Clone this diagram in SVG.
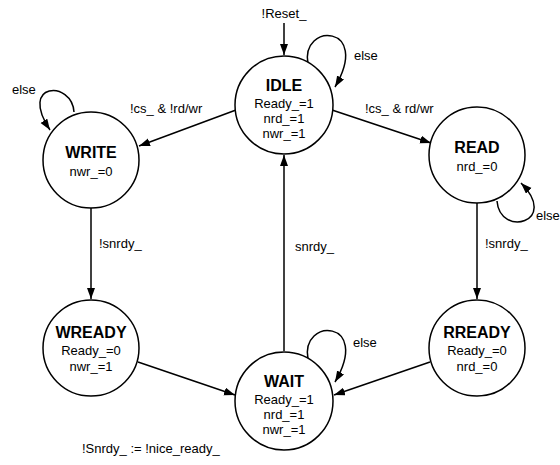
<svg xmlns="http://www.w3.org/2000/svg" width="560" height="465" viewBox="0 0 560 465">
<style>
.st{fill:#fff;stroke:#000;stroke-width:1.5}
.nm{font-family:"Liberation Sans",Arial,sans-serif;font-weight:bold;font-size:16px;text-anchor:middle;fill:#000}
.tx{font-family:"Liberation Sans",Arial,sans-serif;font-size:13px;text-anchor:middle;fill:#000}
.lb{font-family:"Liberation Sans",Arial,sans-serif;font-size:13px;fill:#000}
.cn{fill:none;stroke:#000;stroke-width:1.5;marker-end:url(#ah)}
</style>
<defs>
<marker id="ah" markerUnits="userSpaceOnUse" markerWidth="12" markerHeight="10" refX="11" refY="4" orient="auto">
<path d="M0,0 L11,4 L0,8 z" fill="#000"/>
</marker>
</defs>
<rect width="560" height="465" fill="#fff"/>
<g id="connectors">
<line class="cn" x1="284" y1="23" x2="284" y2="55"/>
<path class="cn" d="M308,64 C300,22 372,24 335,87"/>
<line class="cn" x1="236" y1="110" x2="139" y2="146"/>
<line class="cn" x1="332" y1="110" x2="431" y2="143"/>
<path class="cn" d="M74,112 C72,80 18,82 50,130"/>
<path class="cn" d="M497,201 C500,238 560,222 521,183"/>
<line class="cn" x1="91" y1="208" x2="91" y2="299"/>
<line class="cn" x1="477" y1="203" x2="477" y2="299"/>
<line class="cn" x1="284" y1="351" x2="284" y2="155"/>
<line class="cn" x1="138" y1="362" x2="235" y2="395"/>
<line class="cn" x1="430" y1="362" x2="334" y2="395"/>
<path class="cn" d="M308,359 C300,317 372,319 335,382"/>
<text class="lb" x="284" y="18" text-anchor="middle">!Reset_</text>
<text class="lb" x="354" y="60">else</text>
<text class="lb" x="12" y="94">else</text>
<text class="lb" x="536" y="220">else</text>
<text class="lb" x="353" y="347">else</text>
<text class="lb" x="130" y="113">!cs_ &amp; !rd/wr</text>
<text class="lb" x="365" y="113">!cs_ &amp; rd/wr</text>
<text class="lb" x="99" y="248">!snrdy_</text>
<text class="lb" x="485" y="248">!snrdy_</text>
<text class="lb" x="295" y="251">snrdy_</text>
<text class="lb" x="82" y="453">!Snrdy_ := !nice_ready_</text>
</g>
<g id="IDLE">
<circle class="st" cx="284" cy="105" r="49"/>
<text class="nm" x="284" y="91">IDLE</text>
<text class="tx" x="284" y="108">Ready_=1</text>
<text class="tx" x="284" y="123">nrd_=1</text>
<text class="tx" x="284" y="138">nwr_=1</text>
</g>
<g id="WRITE">
<circle class="st" cx="91" cy="160" r="48"/>
<text class="nm" x="91" y="158">WRITE</text>
<text class="tx" x="91" y="176">nwr_=0</text>
</g>
<g id="READ">
<circle class="st" cx="477" cy="155" r="48"/>
<text class="nm" x="477" y="153">READ</text>
<text class="tx" x="477" y="171">nrd_=0</text>
</g>
<g id="WREADY">
<circle class="st" cx="91" cy="348" r="48"/>
<text class="nm" x="91" y="338">WREADY</text>
<text class="tx" x="91" y="355">Ready_=0</text>
<text class="tx" x="91" y="371">nwr_=1</text>
</g>
<g id="RREADY">
<circle class="st" cx="477" cy="348" r="48"/>
<text class="nm" x="477" y="338">RREADY</text>
<text class="tx" x="477" y="355">Ready_=0</text>
<text class="tx" x="477" y="371">nrd_=0</text>
</g>
<g id="WAIT">
<circle class="st" cx="284" cy="401" r="49"/>
<text class="nm" x="284" y="387">WAIT</text>
<text class="tx" x="284" y="404">Ready_=1</text>
<text class="tx" x="284" y="419">nrd_=1</text>
<text class="tx" x="284" y="434">nwr_=1</text>
</g>
</svg>
